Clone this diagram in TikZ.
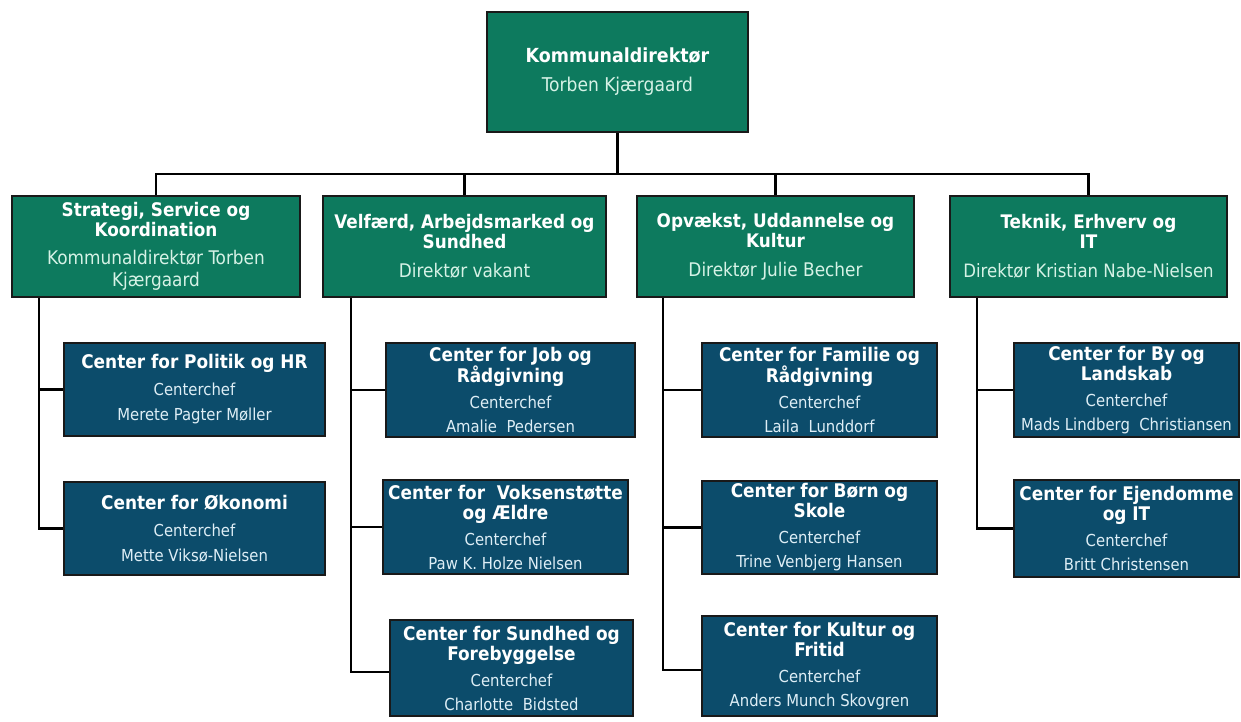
\documentclass[tikz,border=0pt]{standalone}
\usepackage{fontspec}
\setmainfont{DejaVu Sans Condensed}
\definecolor{dgreen}{RGB}{13,122,94}
\definecolor{dblue}{RGB}{12,76,107}
\definecolor{gtext}{RGB}{214,242,230}
\definecolor{btext}{RGB}{222,238,246}
\definecolor{edge}{RGB}{25,25,25}
\newcommand\rg[1]{\fontsize{#1}{20}\selectfont\mdseries}
\begin{document}
\begin{tikzpicture}[x=1pt,y=-1pt,
  box/.style={draw=edge, line width=2.2pt, inner sep=0pt, align=center, text=white, font=\bfseries},
  gbox/.style={box, fill=dgreen},
  bbox/.style={box, fill=dblue},
  topsz/.style={minimum width=261pt, minimum height=120pt},
  dirsz/.style={minimum height=101pt},
  wire/.style={line width=2.2pt, black}]
\useasboundingbox[fill=white] (0,0) rectangle (1241,721);
% top
\node[gbox, topsz, font=\bfseries\fontsize{19.4}{20}\selectfont] (top) at (617.5,72)
  {Kommunaldirektør\\[9pt]{\rg{19}\color{gtext}Torben Kjærgaard}};
% directors
\tikzset{dfont/.style={font=\bfseries\fontsize{18.7}{20}\selectfont}}
\node[gbox, dirsz, dfont, minimum width=288pt] (L1) at (156,246.5)
  {Strategi, Service og\\Koordination\\[8pt]{\rg{18.8}\color{gtext}Kommunaldirektør Torben}\\[2pt]{\rg{18.8}\color{gtext}Kjærgaard}};
\node[gbox, dirsz, dfont, minimum width=283pt] (L2) at (464.5,246.5)
  {Velfærd, Arbejdsmarked og\\Sundhed\\[9pt]{\rg{18.8}\color{gtext}Direktør vakant}};
\node[gbox, dirsz, dfont, minimum width=277pt] (L3) at (775.5,246.5)
  {Opvækst, Uddannelse og\\Kultur\\[9pt]{\rg{18.8}\color{gtext}Direktør Julie Becher}};
\node[gbox, dirsz, dfont, minimum width=277pt] (L4) at (1088.5,246.5)
  {Teknik, Erhverv og\\IT\\[9pt]{\rg{18.4}\color{gtext}Direktør Kristian Nabe-Nielsen}};
% centres
\tikzset{cfont/.style={font=\bfseries\fontsize{18.8}{20}\selectfont}}
\node[bbox, cfont, minimum width=261pt, minimum height=93pt] (C11) at (194.5,389.5)
  {Center for Politik og HR\\[7pt]{\rg{16.5}\color{btext}Centerchef}\\[5pt]{\rg{16.5}\color{btext}Merete Pagter Møller}};
\node[bbox, cfont, minimum width=261pt, minimum height=93pt] (C12) at (194.5,528.5)
  {Center for Økonomi\\[7pt]{\rg{16.5}\color{btext}Centerchef}\\[5pt]{\rg{16.5}\color{btext}Mette Viksø-Nielsen}};
\node[bbox, cfont, minimum width=249pt, minimum height=94pt] (C21) at (510.5,390)
  {Center for Job og\\Rådgivning\\[6pt]{\rg{16.5}\color{btext}Centerchef}\\[4pt]{\rg{16.5}\color{btext}Amalie\ \ Pedersen}};
\node[bbox, cfont, minimum width=245pt, minimum height=94pt] (C22) at (505.5,527)
  {Center for\ \ Voksenstøtte\\og Ældre\\[6pt]{\rg{16.5}\color{btext}Centerchef}\\[4pt]{\rg{16.5}\color{btext}Paw K. Holze Nielsen}};
\node[bbox, cfont, minimum width=243pt, minimum height=96pt] (C23) at (511.5,668)
  {Center for Sundhed og\\Forebyggelse\\[6pt]{\rg{16.5}\color{btext}Centerchef}\\[4pt]{\rg{16.5}\color{btext}Charlotte\ \ Bidsted}};
\node[bbox, cfont, minimum width=235pt, minimum height=94pt] (C31) at (819.5,390)
  {Center for Familie og\\Rådgivning\\[6pt]{\rg{16.5}\color{btext}Centerchef}\\[4pt]{\rg{16.5}\color{btext}Laila\ \ Lunddorf}};
\node[bbox, cfont, minimum width=235pt, minimum height=93pt] (C32) at (819.5,527.5)
  {Center for Børn og\\Skole\\[6pt]{\rg{16.5}\color{btext}Centerchef}\\[4pt]{\rg{16.5}\color{btext}Trine Venbjerg Hansen}};
\node[bbox, cfont, minimum width=235pt, minimum height=100pt] (C33) at (819.5,666)
  {Center for Kultur og\\Fritid\\[6pt]{\rg{16.5}\color{btext}Centerchef}\\[4pt]{\rg{16.5}\color{btext}Anders Munch Skovgren}};
\node[bbox, cfont, minimum width=225pt, minimum height=94pt] (C41) at (1126.5,390)
  {Center for By og\\Landskab\\[6pt]{\rg{16.5}\color{btext}Centerchef}\\[4pt]{\rg{16.5}\color{btext}Mads Lindberg\ \ Christiansen}};
\node[bbox, cfont, minimum width=225pt, minimum height=97pt] (C42) at (1126.5,528.5)
  {Center for Ejendomme\\og IT\\[6pt]{\rg{16.5}\color{btext}Centerchef}\\[4pt]{\rg{16.5}\color{btext}Britt Christensen}};
% connectors
\coordinate (bus) at (617,174);
\draw[wire] (top.south) -- (top.south |- bus);
\draw[wire] (L1.north) |- (bus) -| (L4.north);
\draw[wire] (L2.north) -- (L2.north |- bus);
\draw[wire] (L3.north) -- (L3.north |- bus);
\coordinate (v1) at ([xshift=28pt]L1.south west);
\coordinate (v2) at ([xshift=29pt]L2.south west);
\coordinate (v3) at ([xshift=27pt]L3.south west);
\coordinate (v4) at ([xshift=28pt]L4.south west);
\draw[wire] (v1) |- (C12.west);
\draw[wire] (C11.west -| v1) -- (C11.west);
\draw[wire] (v2) |- ([yshift=-4pt]C23.west);
\draw[wire] (C21.west -| v2) -- (C21.west);
\draw[wire] (C22.west -| v2) -- (C22.west);
\draw[wire] (v3) |- ([yshift=-4pt]C33.west);
\draw[wire] (C31.west -| v3) -- (C31.west);
\draw[wire] (C32.west -| v3) -- (C32.west);
\draw[wire] (v4) |- (C42.west);
\draw[wire] (C41.west -| v4) -- (C41.west);
\end{tikzpicture}
\end{document}
